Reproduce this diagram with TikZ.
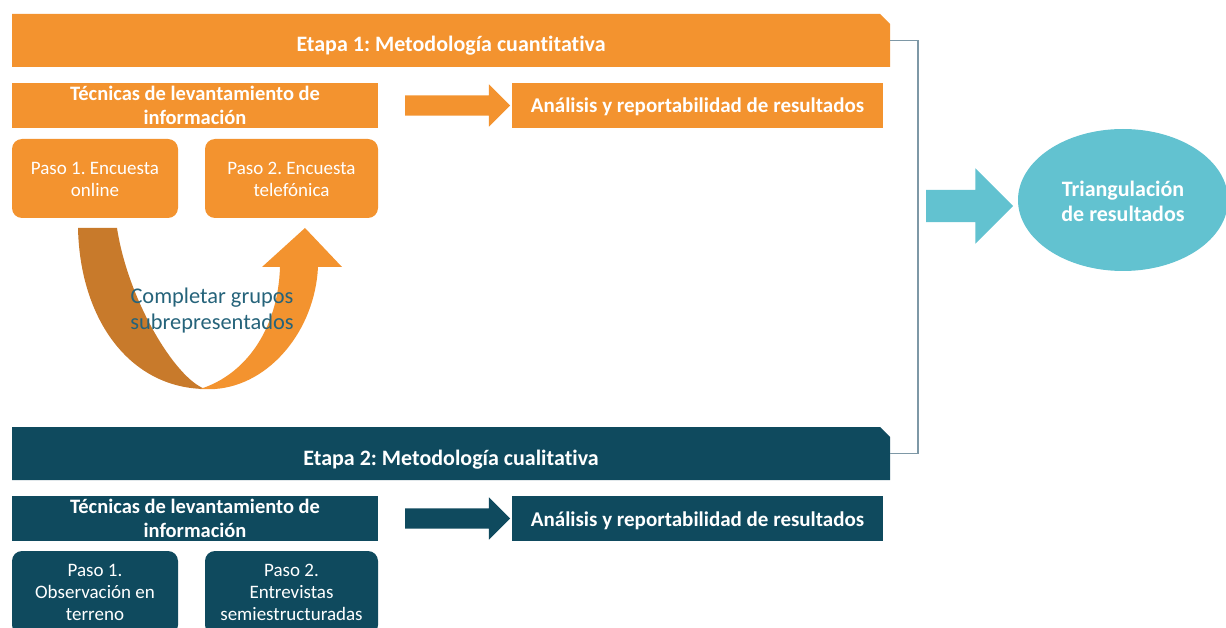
\documentclass[tikz,border=0pt]{standalone}
\usepackage{fontspec}
\setmainfont[Ligatures=NoCommon]{Carlito}
\usepackage{xcolor}
\usetikzlibrary{shapes.misc,shapes.arrows,shapes.geometric,positioning,calc}
\definecolor{naranja}{HTML}{F3932F}
\definecolor{naranjaosc}{HTML}{C87A2B}
\definecolor{petroleo}{HTML}{0F4A5E}
\definecolor{textoazul}{HTML}{25637A}
\definecolor{celeste}{HTML}{62C2D0}
\definecolor{linea}{HTML}{7E98A6}
\frenchspacing

\tikzset{
    etapa/.style={chamfered rectangle,chamfered rectangle corners=north east,
        chamfered rectangle xsep=5pt,chamfered rectangle ysep=5pt,
        minimum width=878pt,minimum height=53pt,inner sep=0pt,text=white,
        text height=23pt,text depth=0pt,
        font=\fontsize{22}{26}\selectfont\bfseries},
    tecnica/.style={rectangle,minimum height=45pt,inner sep=0pt,text=white,
        align=center,font=\fontsize{20.5}{24}\selectfont\bfseries},
    analisis/.style={rectangle,minimum width=371pt,minimum height=45pt,inner sep=0pt,
        text=white,text height=15pt,text depth=0pt,
        font=\fontsize{21}{25}\selectfont\bfseries},
    paso/.style={rectangle,rounded corners=10pt,minimum height=79pt,inner sep=0pt,
        text=white,align=center,text height=37pt,text depth=0pt,
        font=\fontsize{19}{22.5}\selectfont},
    flecha/.style={single arrow,single arrow head extend=11pt,inner ysep=10pt,
        inner xsep=0pt,minimum height=105pt,shape border rotate=0}
}

\begin{document}
\begin{tikzpicture}[x=1pt,y=-1pt]
    \useasboundingbox (0,0) rectangle (1226,628);

    % Etapa 1: cuantitativa
    \node[etapa,fill=naranja] (etapa1) at (451,40.5) {Etapa 1: Metodología cuantitativa};
    \node[tecnica,fill=naranja,minimum width=366pt] (tec1) at (195,105.5)
        {Técnicas de levantamiento de\\información};
    \node[analisis,fill=naranja] (ana1) at (697.5,105.5)
        {Análisis y reportabilidad de resultados};
    \node[flecha,fill=naranja] (fle1) at (452.5,105.5) {};
    \node[paso,fill=naranja,minimum width=166pt] (paso1a) at (95,178.5)
        {Paso 1. Encuesta\\online};
    \node[paso,fill=naranja,minimum width=173pt] (paso2a) at (291.5,178.5)
        {Paso 2. Encuesta\\telefónica};

    % flecha en U entre los pasos
    \fill[naranjaosc] (78,228) .. controls (80,320) and (130,388) .. (205,389)
        .. controls (175,378) and (128,300) .. (117,228) -- cycle;
    \fill[naranja] (200,389) .. controls (245,375) and (278,330) .. (280,267)
        -- (262,267) -- (305,228) -- (342,267) -- (318,267)
        .. controls (315,330) and (270,385) .. (215,389) -- cycle;
    \node[text=textoazul,align=center,font=\fontsize{22.4}{26}\selectfont] (completar)
        at (212,311) {Completar grupos\\subrepresentados};

    % Etapa 2: cualitativa
    \node[etapa,fill=petroleo] (etapa2) at (451,453.5) {Etapa 2: Metodología cualitativa};
    \node[tecnica,fill=petroleo,minimum width=366pt] (tec2) at (195,518.5)
        {Técnicas de levantamiento de\\información};
    \node[analisis,fill=petroleo] (ana2) at (697.5,518.5)
        {Análisis y reportabilidad de resultados};
    \node[flecha,fill=petroleo] (fle2) at (452.5,518.5) {};
    \node[paso,fill=petroleo,minimum width=166pt,minimum height=84pt,text height=54pt,
        font=\fontsize{19}{22}\selectfont] (paso1b) at (95,593)
        {Paso 1.\\Observación en\\terreno};
    \node[paso,fill=petroleo,minimum width=173pt,minimum height=84pt,text height=54pt,
        font=\fontsize{19}{22}\selectfont] (paso2b) at (291.5,593)
        {Paso 2.\\Entrevistas\\semiestructuradas};

    % triangulacion
    \draw[linea,line width=1.5pt] (etapa1.east) -- (918,40.5) |- (etapa2.east);
    \node[flecha,fill=celeste,single arrow head extend=21.5pt,inner ysep=16pt,
        minimum height=87pt] (fle3) at (961.5,206) {};
    \node[ellipse,fill=celeste,minimum width=210pt,minimum height=142pt,inner sep=0pt,
        text=white,align=center,text height=44pt,text depth=0pt,
        font=\fontsize{22}{25}\selectfont\bfseries] (triang)
        at (1123,200) {Triangulación\\de resultados};
\end{tikzpicture}
\end{document}
